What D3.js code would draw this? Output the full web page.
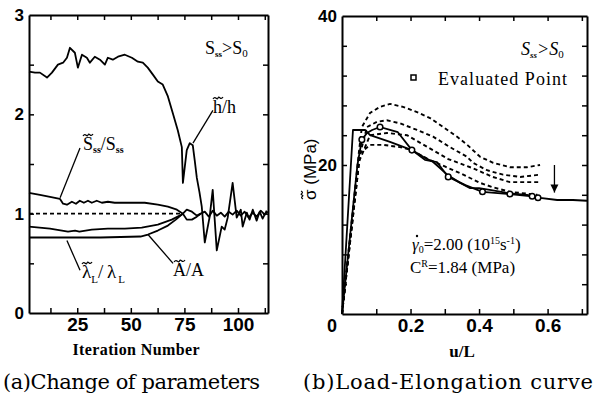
<!DOCTYPE html>
<html>
<head>
<meta charset="utf-8">
<script src="https://cdn.jsdelivr.net/npm/d3@7"></script>
<style>
  body { margin: 0; background: #fff; }
  svg { display: block; }
  .domain { stroke: #000; stroke-width: 2; }
  .tick line { stroke: #000; stroke-width: 1.5; }
  .curve { fill: none; stroke: #000; stroke-width: 1.8; stroke-linejoin: round; }
  .dash { fill: none; stroke: #000; stroke-width: 1.9; stroke-dasharray: 4,3; }
  .lead { stroke: #000; stroke-width: 1.3; }
  .accent { fill: none; stroke: #000; stroke-width: 1.2; }
  .num { font-family: "Liberation Sans", Arial, sans-serif; font-weight: bold; fill: #000; }
  .ser { font-family: "Liberation Serif", serif; fill: #000; }
  .cap { font-family: "DejaVu Serif", serif; fill: #000; }
</style>
</head>
<body>
<div id="chart"></div>
<script>
// ---------------- (a) parameters vs iteration ----------------
const hRatio = [[2.5,2.43],[5.3,2.42],[7.6,2.42],[10.9,2.37],[13.2,2.42],[16.0,2.50],[18.4,2.52],[20.2,2.57],
  [21.6,2.67],[23.9,2.62],[25.3,2.47],[27.2,2.60],[29.5,2.57],[30.9,2.52],[33.2,2.58],[35.6,2.55],[37.9,2.50],
  [39.3,2.57],[41.6,2.55],[44.0,2.58],[47.2,2.60],[50.5,2.57],[53.3,2.53],[55.6,2.52],[57.9,2.47],[60.3,2.40],
  [62.6,2.33],[64.9,2.30],[67.3,2.18],[69.6,2.01],[71.9,1.84],[73.8,1.67],[74.3,1.31],[76.1,1.64],[77.5,1.71],
  [78.9,1.69],[79.8,1.54],[80.8,1.36],[82.0,1.22],[83.1,1.07],[84.5,0.71],[86.8,0.97],[88.2,1.24],[90.1,0.63],
  [92.4,0.87],[93.8,0.84],[95.2,0.96],[97.5,1.31],[99.4,0.96],[101.3,1.04],[102.2,0.87],[104.1,1.01],
  [105.4,0.94],[106.9,1.04],[108.7,0.93],[110.1,1.02],[111.5,0.95],[113.4,1.03]];
const sRatio = [[2.5,1.21],[7.6,1.19],[12.3,1.17],[16.9,1.15],[18.4,1.10],[20.2,1.09],[22.5,1.12],[24.4,1.10],
  [26.2,1.13],[28.1,1.11],[30.0,1.13],[31.8,1.11],[34.1,1.13],[36.5,1.11],[39.3,1.12],[42.5,1.11],[47.2,1.11],
  [51.8,1.11],[56.5,1.11],[62.6,1.09],[67.3,1.07],[71.5,1.04],[74.3,1.0]];
const aRatio = [[2.5,0.87],[12.3,0.85],[20.7,0.82],[24.0,0.83],[26.0,0.82],[31.8,0.84],[39.3,0.85],[47.2,0.85],
  [55.1,0.86],[62.6,0.89],[69.1,0.94],[72.8,0.98],[74.3,1.0]];
const lambdaRatio = [[2.5,0.76],[20.0,0.76],[35.9,0.76],[54.5,0.77],[58.0,0.79],[62.6,0.83],[67.3,0.88],
  [71.0,0.94],[74.3,1.0]];
const convergedUpper = [[74.3,1.0],[76.1,1.04],[78.5,1.02],[80.8,0.98],[82.6,1.0],[84.5,1.02],[86.4,0.97],
  [88.2,1.03],[90.1,0.98],[92.0,1.01],[93.8,0.97],[95.7,1.02],[97.5,0.99],[99.4,1.03],[101.3,0.98],[103.1,1.02],
  [105.0,0.96],[106.9,1.01],[108.7,0.97],[110.6,1.03],[112.5,0.99],[113.9,1.02]];
const convergedLower = [[74.3,1.0],[76.1,0.94],[78.5,0.94],[80.8,0.97],[82.6,1.0]];
const unityLine = [[2.5,1],[74.3,1]];
const iterLabels = [25, 50, 75, 100];
const ratioLabels = [0, 1, 2, 3];

// ---------------- (b) load - elongation ----------------
const fitCurve = [[0,0],[0.032,24.7],[0.067,24.7],[0.082,24.0],[0.14,23.1],[0.204,22.0],[0.237,21.1],
  [0.266,20.4],[0.307,18.7],[0.345,17.6],[0.374,16.9],[0.40,16.9],[0.44,16.6],[0.49,16.2],[0.54,16.0],
  [0.578,15.6],[0.628,15.3],[0.674,15.3],[0.715,15.2]];
const evaluated = [[0,0],[0.045,20.0],[0.058,23.4],[0.073,24.3],[0.088,24.7],[0.111,25.1],[0.14,24.7],
  [0.163,24.4],[0.204,22.0],[0.242,20.7],[0.277,20.4],[0.31,18.4],[0.36,17.3],[0.41,16.4],[0.49,16.1],
  [0.555,15.8],[0.572,15.6]];
const evalPoints = [[0.058,23.4],[0.111,25.1],[0.204,22.0],[0.31,18.4],[0.41,16.4],[0.49,16.1],[0.555,15.8],[0.572,15.6]];
const trial1 = [[0,0],[0.05,22.0],[0.058,25.1],[0.082,27.0],[0.111,27.8],[0.14,28.2],[0.178,27.8],[0.219,27.1],
  [0.257,26.3],[0.295,25.1],[0.336,23.8],[0.368,22.6],[0.403,21.1],[0.441,20.3],[0.49,19.7],[0.54,19.7],[0.578,20.0]];
const trial2 = [[0,0],[0.05,21.0],[0.073,25.1],[0.102,25.8],[0.131,26.0],[0.169,25.6],[0.219,24.7],[0.266,23.8],
  [0.315,22.4],[0.365,21.1],[0.382,20.3],[0.423,19.3],[0.47,18.7],[0.52,18.4],[0.578,18.7]];
const trial3 = [[0,0],[0.05,20.5],[0.082,24.0],[0.131,24.3],[0.19,24.0],[0.25,22.4],[0.31,20.8],[0.345,20.2],
  [0.38,19.6],[0.44,18.4],[0.49,17.7],[0.578,17.7]];
const trial4 = [[0,0],[0.053,21.6],[0.082,22.7],[0.12,22.7],[0.169,22.4],[0.204,22.0],[0.25,20.8],[0.30,19.8],
  [0.345,18.9],[0.403,17.6],[0.441,17.0],[0.49,16.4],[0.57,16.0]];
const arrowAt = [0.62, 20.0, 16.3];
const strainLabels = [0.2, 0.4, 0.6];
const stressLabels = [20, 40];

const svg = d3.select("#chart").append("svg").attr("width", 597).attr("height", 397);

// inward ticks on all four sides, the axis domains make the box
function drawFrame(x, y, xTicks, yTicks) {
  const [x0, x1] = x.range(), [y0, y1] = y.range();
  svg.append("g").attr("transform", "translate(0," + y0 + ")")
    .call(d3.axisBottom(x).tickValues(xTicks).tickSize(-5).tickSizeOuter(0).tickFormat(""));
  svg.append("g").attr("transform", "translate(0," + y1 + ")")
    .call(d3.axisTop(x).tickValues(xTicks).tickSize(-5).tickSizeOuter(0).tickFormat(""));
  svg.append("g").attr("transform", "translate(" + x0 + ",0)")
    .call(d3.axisLeft(y).tickValues(yTicks).tickSize(-5).tickSizeOuter(0).tickFormat(""));
  svg.append("g").attr("transform", "translate(" + x1 + ",0)")
    .call(d3.axisRight(y).tickValues(yTicks).tickSize(-5).tickSizeOuter(0).tickFormat(""));
}

function labels(axis, pos, size, fmt) {
  svg.append("g").attr("transform", pos)
    .call(axis.tickSize(0).tickPadding(5).tickFormat(fmt))
    .call(g => g.select(".domain").remove())
    .selectAll("text").attr("class", "num").style("font-size", size + "px");
}

// small tilde accent as a path, centred at (cx, cy)
function tilde(parent, cx, cy, w) {
  const p = d3.path();
  p.moveTo(cx - w / 2, cy + 1);
  p.bezierCurveTo(cx - w / 4, cy - 3, cx - w / 8, cy + 3, cx, cy);
  p.bezierCurveTo(cx + w / 8, cy - 3, cx + w / 4, cy + 3, cx + w / 2, cy - 1);
  parent.append("path").attr("class", "accent").attr("d", p.toString());
}

function drawA() {
  const x = d3.scaleLinear().domain([2.5, 114]).range([29, 268]);
  const y = d3.scaleLinear().domain([0, 3]).range([313, 15]);
  const line = d3.line().x(d => x(d[0])).y(d => y(d[1]));

  drawFrame(x, y, d3.range(12.5, 113, 12.5), d3.range(0.5, 3, 0.5));
  labels(d3.axisBottom(x).tickValues(iterLabels), "translate(0,313)", 19, d3.format("d"));
  labels(d3.axisLeft(y).tickValues(ratioLabels), "translate(29,0)", 17, d3.format("d"));

  svg.append("path").datum(unityLine).attr("class", "dash").attr("stroke-width", 1.3).attr("d", line);
  [sRatio, aRatio, lambdaRatio, convergedUpper, convergedLower, hRatio].forEach(s =>
    svg.append("path").datum(s).attr("class", "curve").attr("d", line));

  // leader lines
  [[[26.3,1.66],[17.0,1.16]], [[88.3,2.04],[79.0,1.71]], [[26.3,0.43],[20.2,0.73]], [[69.7,0.50],[58.0,0.79]]]
    .forEach(l => svg.append("line").attr("class", "lead")
      .attr("x1", x(l[0][0])).attr("y1", y(l[0][1])).attr("x2", x(l[1][0])).attr("y2", y(l[1][1])));

  const t1 = svg.append("text").attr("class", "ser").attr("x", 83).attr("y", 150).style("font-size", "18px");
  t1.append("tspan").text("S");
  t1.append("tspan").text("ss").attr("dy", 3).style("font-size", "10px").style("font-weight", "bold");
  t1.append("tspan").text("/S").attr("dy", -3);
  t1.append("tspan").text("ss").attr("dy", 3).style("font-size", "10px").style("font-weight", "bold");
  tilde(svg, 88, 135, 10);

  svg.append("text").attr("class", "ser").attr("x", 213).attr("y", 113).style("font-size", "18px").text("h/h");
  tilde(svg, 218, 98, 10);

  const t3 = svg.append("text").attr("class", "ser").attr("x", 82).attr("y", 278).style("font-size", "19px");
  t3.append("tspan").text("\u03bb");
  t3.append("tspan").text("L").attr("dy", 5).style("font-size", "11px");
  t3.append("tspan").text("/\u2009\u03bb").attr("dy", -5);
  t3.append("tspan").text("L").attr("dx", 2).attr("dy", 5).style("font-size", "11px");
  tilde(svg, 87, 263, 10);

  svg.append("text").attr("class", "ser").attr("x", 173).attr("y", 276).style("font-size", "18px").text("A/A");
  tilde(svg, 179.5, 261, 11);

  const t5 = svg.append("text").attr("class", "ser").attr("x", 205).attr("y", 54).style("font-size", "18px");
  t5.append("tspan").text("S");
  t5.append("tspan").text("ss").attr("dy", 3).style("font-size", "9px").style("font-weight", "bold");
  t5.append("tspan").text(">S").attr("dy", -3);
  t5.append("tspan").text("0").attr("dy", 3).style("font-size", "11px");

  svg.append("text").attr("class", "ser").attr("x", 136).attr("y", 355).attr("text-anchor", "middle")
    .attr("textLength", 127).style("font-size", "16px").style("font-weight", "bold").text("Iteration Number");
  svg.append("text").attr("class", "cap").attr("x", 3).attr("y", 389).attr("textLength", 257)
    .style("font-size", "21px").text("(a)Change of parameters");
}

function drawB() {
  const x = d3.scaleLinear().domain([0, 0.715]).range([342, 587]);
  const y = d3.scaleLinear().domain([0, 40]).range([314, 16]);
  const line = d3.line().x(d => x(d[0])).y(d => y(d[1]));

  drawFrame(x, y, d3.range(0.1, 0.71, 0.1), d3.range(4, 40, 4));
  labels(d3.axisBottom(x).tickValues(strainLabels), "translate(0,314)", 19, d3.format(".1f"));
  labels(d3.axisLeft(y).tickValues(stressLabels), "translate(342,0)", 17, d3.format("d"));
  svg.append("text").attr("class", "num").attr("x", x(0) - 10).attr("y", 332).attr("text-anchor", "middle")
    .style("font-size", "18px").text("0");

  [trial1, trial2, trial3, trial4].forEach(s =>
    svg.append("path").datum(s).attr("class", "dash").attr("d", line));
  [fitCurve, evaluated].forEach(s =>
    svg.append("path").datum(s).attr("class", "curve").attr("d", line));
  svg.selectAll(".evalpt").data(evalPoints).enter().append("circle").attr("class", "evalpt")
    .attr("cx", d => x(d[0])).attr("cy", d => y(d[1])).attr("r", 2.8)
    .attr("fill", "#fff").attr("stroke", "#000").attr("stroke-width", 1.5);

  // arrow pointing down at the converged curve
  svg.append("line").attr("class", "lead").attr("stroke-width", 1.6)
    .attr("x1", x(arrowAt[0])).attr("x2", x(arrowAt[0])).attr("y1", y(arrowAt[1])).attr("y2", y(arrowAt[2]));
  svg.append("path").attr("fill", "#000")
    .attr("d", d3.line()([[x(arrowAt[0]) - 4, y(arrowAt[2]) - 8], [x(arrowAt[0]), y(arrowAt[2])], [x(arrowAt[0]) + 4, y(arrowAt[2]) - 8]]));

  const t1 = svg.append("text").attr("class", "ser").attr("x", 521).attr("y", 55).style("font-size", "18px").style("font-style", "italic");
  t1.append("tspan").text("S");
  t1.append("tspan").text("ss").attr("dy", 3).style("font-size", "9px").style("font-weight", "bold");
  t1.append("tspan").text(">S").attr("dy", -3);
  t1.append("tspan").text("0").attr("dy", 3).style("font-size", "11px").style("font-style", "normal");

  svg.append("rect").attr("x", 411).attr("y", 75).attr("width", 5).attr("height", 5)
    .attr("fill", "#fff").attr("stroke", "#000").attr("stroke-width", 1.5);
  svg.append("text").attr("class", "ser").attr("x", 438).attr("y", 85).attr("textLength", 129)
    .style("font-size", "18px").text("Evaluated Point");

  const g1 = svg.append("text").attr("class", "ser").attr("x", 412).attr("y", 250).style("font-size", "17px");
  g1.append("tspan").text("\u03b3").style("font-style", "italic");
  g1.append("tspan").text("0").attr("dy", 3).style("font-size", "10px");
  g1.append("tspan").text("=2.00 (10").attr("dy", -3);
  g1.append("tspan").text("15").attr("dy", -6).style("font-size", "10px");
  g1.append("tspan").text("s").attr("dy", 6);
  g1.append("tspan").text("-1").attr("dy", -6).style("font-size", "10px");
  g1.append("tspan").text(")").attr("dy", 6);
  svg.append("circle").attr("cx", 417).attr("cy", 236).attr("r", 1.2).attr("fill", "#000");

  const g2 = svg.append("text").attr("class", "ser").attr("x", 410).attr("y", 273).style("font-size", "17px");
  g2.append("tspan").text("C");
  g2.append("tspan").text("R").attr("dy", -6).style("font-size", "10px");
  g2.append("tspan").text("=1.84 (MPa)").attr("dy", 6);

  // rotated y title, tilde drawn separately above the sigma
  const yl = svg.append("g").attr("transform", "translate(316,200) rotate(-90)");
  yl.append("text").attr("class", "num").attr("x", 0).attr("y", 0).style("font-size", "17px")
    .style("font-weight", "normal").text("\u03c3  (MPa)");
  tilde(yl, 5, -14, 8);
  svg.append("text").attr("class", "ser").attr("x", 462).attr("y", 357).attr("text-anchor", "middle")
    .style("font-size", "17px").style("font-weight", "bold").text("u/L");
  svg.append("text").attr("class", "cap").attr("x", 303).attr("y", 389).attr("textLength", 290)
    .style("font-size", "21px").text("(b)Load-Elongation curve");
}

drawA();
drawB();
</script>
</body>
</html>
